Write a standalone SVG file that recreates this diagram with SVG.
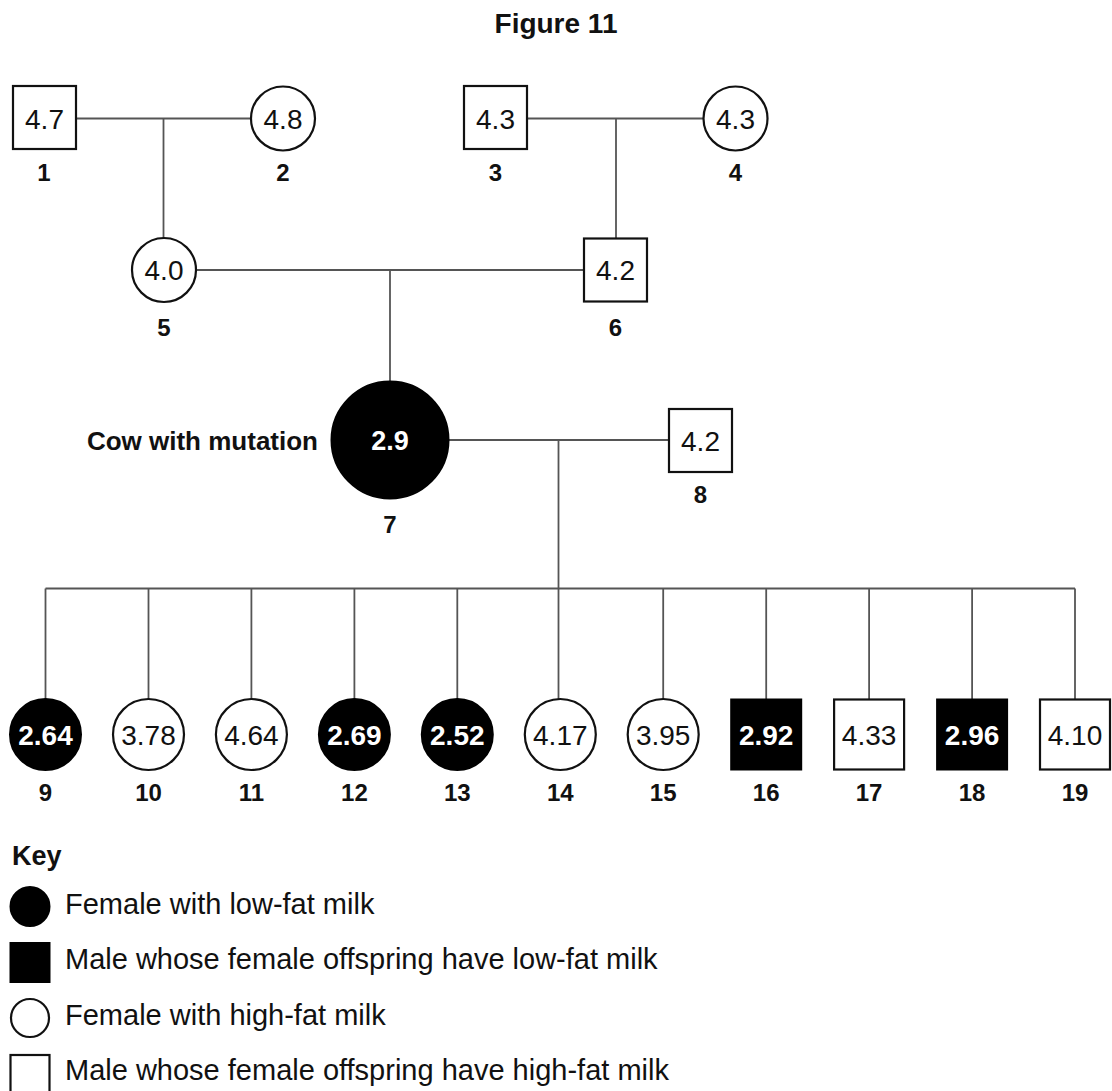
<svg xmlns="http://www.w3.org/2000/svg" width="1112" height="1091" viewBox="0 0 1112 1091">
<style>
.sh{fill:#fff;stroke:#111;stroke-width:2.2}
.fl{fill:#000;stroke:#000;stroke-width:2}
.conn line{stroke:#555;stroke-width:1.8}
text{font-family:"Liberation Sans",Arial,sans-serif;fill:#111}
.n{font-size:28px;text-anchor:middle}
.nb{font-size:28px;text-anchor:middle}
.w{fill:#fff;font-weight:bold}
.lb{font-size:24px;font-weight:bold;text-anchor:middle}
.k{font-size:29px}
</style>
<rect width="1112" height="1091" fill="#fff"/>
<text x="556" y="33" font-size="28" font-weight="bold" text-anchor="middle">Figure 11</text>
<g class="conn" id="connectors">
<line x1="76" y1="118.5" x2="251" y2="118.5"/>
<line x1="163.5" y1="118.5" x2="163.5" y2="238"/>
<line x1="527" y1="118.5" x2="703.5" y2="118.5"/>
<line x1="616" y1="118.5" x2="616" y2="238"/>
<line x1="196" y1="270" x2="584" y2="270"/>
<line x1="390" y1="270" x2="390" y2="381.5"/>
<line x1="448.5" y1="440" x2="669" y2="440"/>
<line x1="558.5" y1="440" x2="558.5" y2="588.5"/>
<line x1="45.5" y1="588.5" x2="1075" y2="588.5"/>
<line x1="45.5" y1="588.5" x2="45.5" y2="699"/>
<line x1="148.5" y1="588.5" x2="148.5" y2="699"/>
<line x1="251.4" y1="588.5" x2="251.4" y2="699"/>
<line x1="354.4" y1="588.5" x2="354.4" y2="699"/>
<line x1="457.3" y1="588.5" x2="457.3" y2="699"/>
<line x1="558.5" y1="588.5" x2="558.5" y2="699"/>
<line x1="663.2" y1="588.5" x2="663.2" y2="699"/>
<line x1="766.2" y1="588.5" x2="766.2" y2="699"/>
<line x1="869.1" y1="588.5" x2="869.1" y2="699"/>
<line x1="972.1" y1="588.5" x2="972.1" y2="699"/>
<line x1="1075" y1="588.5" x2="1075" y2="699"/>
</g>
<g id="n1"><rect class="sh" x="13" y="86" width="63" height="63"/><text class="n" x="44.5" y="128.5">4.7</text><text class="lb" x="44" y="181">1</text></g>
<g id="n2"><circle class="sh" cx="283" cy="118.5" r="32"/><text class="n" x="283" y="128.5">4.8</text><text class="lb" x="283" y="181">2</text></g>
<g id="n3"><rect class="sh" x="464" y="86" width="63" height="63"/><text class="n" x="495.5" y="128.5">4.3</text><text class="lb" x="495.5" y="181">3</text></g>
<g id="n4"><circle class="sh" cx="735.5" cy="118.5" r="32"/><text class="n" x="735.5" y="128.5">4.3</text><text class="lb" x="735.5" y="181">4</text></g>
<g id="n5"><circle class="sh" cx="164" cy="270" r="32"/><text class="n" x="164" y="280">4.0</text><text class="lb" x="164" y="336">5</text></g>
<g id="n6"><rect class="sh" x="584" y="238.5" width="63" height="63"/><text class="n" x="615.5" y="280">4.2</text><text class="lb" x="615.5" y="336">6</text></g>
<g id="n7"><circle class="fl" cx="390" cy="440" r="58.5"/><text x="390" y="450" font-size="27" class="w" text-anchor="middle">2.9</text><text class="lb" x="390" y="533">7</text><text x="318" y="450" font-size="26" font-weight="bold" text-anchor="end">Cow with mutation</text></g>
<g id="n8"><rect class="sh" x="669" y="409" width="63" height="63"/><text class="n" x="700.5" y="450.5">4.2</text><text class="lb" x="700.5" y="503">8</text></g>
<g id="n9"><circle class="fl" cx="45.5" cy="734.5" r="35.5"/><text class="nb w" x="45.5" y="745">2.64</text><text class="lb" x="45.5" y="801">9</text></g>
<g id="n10"><circle class="sh" cx="148.5" cy="734.5" r="35.5"/><text class="nb" x="148.5" y="745">3.78</text><text class="lb" x="148.5" y="801">10</text></g>
<g id="n11"><circle class="sh" cx="251.4" cy="734.5" r="35.5"/><text class="nb" x="251.4" y="745">4.64</text><text class="lb" x="251.4" y="801">11</text></g>
<g id="n12"><circle class="fl" cx="354.4" cy="734.5" r="35.5"/><text class="nb w" x="354.4" y="745">2.69</text><text class="lb" x="354.4" y="801">12</text></g>
<g id="n13"><circle class="fl" cx="457.3" cy="734.5" r="35.5"/><text class="nb w" x="457.3" y="745">2.52</text><text class="lb" x="457.3" y="801">13</text></g>
<g id="n14"><circle class="sh" cx="560.3" cy="734.5" r="35.5"/><text class="nb" x="560.3" y="745">4.17</text><text class="lb" x="560.3" y="801">14</text></g>
<g id="n15"><circle class="sh" cx="663.2" cy="734.5" r="35.5"/><text class="nb" x="663.2" y="745">3.95</text><text class="lb" x="663.2" y="801">15</text></g>
<g id="n16"><rect class="fl" x="731.2" y="699.5" width="70" height="70"/><text class="nb w" x="766.2" y="745">2.92</text><text class="lb" x="766.2" y="801">16</text></g>
<g id="n17"><rect class="sh" x="834.1" y="699.5" width="70" height="70"/><text class="nb" x="869.1" y="745">4.33</text><text class="lb" x="869.1" y="801">17</text></g>
<g id="n18"><rect class="fl" x="937.1" y="699.5" width="70" height="70"/><text class="nb w" x="972.1" y="745">2.96</text><text class="lb" x="972.1" y="801">18</text></g>
<g id="n19"><rect class="sh" x="1040" y="699.5" width="70" height="70"/><text class="nb" x="1075" y="745">4.10</text><text class="lb" x="1075" y="801">19</text></g>
<g id="key">
<text x="12" y="865" font-size="27" font-weight="bold">Key</text>
<circle class="fl" cx="30" cy="906.5" r="19.5"/>
<text class="k" x="65" y="914">Female with low-fat milk</text>
<rect class="fl" x="10.5" y="943" width="39" height="39"/>
<text class="k" x="65" y="969">Male whose female offspring have low-fat milk</text>
<circle class="sh" cx="30" cy="1018" r="19"/>
<text class="k" x="65" y="1025">Female with high-fat milk</text>
<rect class="sh" x="10.5" y="1055" width="39" height="39"/>
<text class="k" x="65" y="1080">Male whose female offspring have high-fat milk</text>
</g>
</svg>
